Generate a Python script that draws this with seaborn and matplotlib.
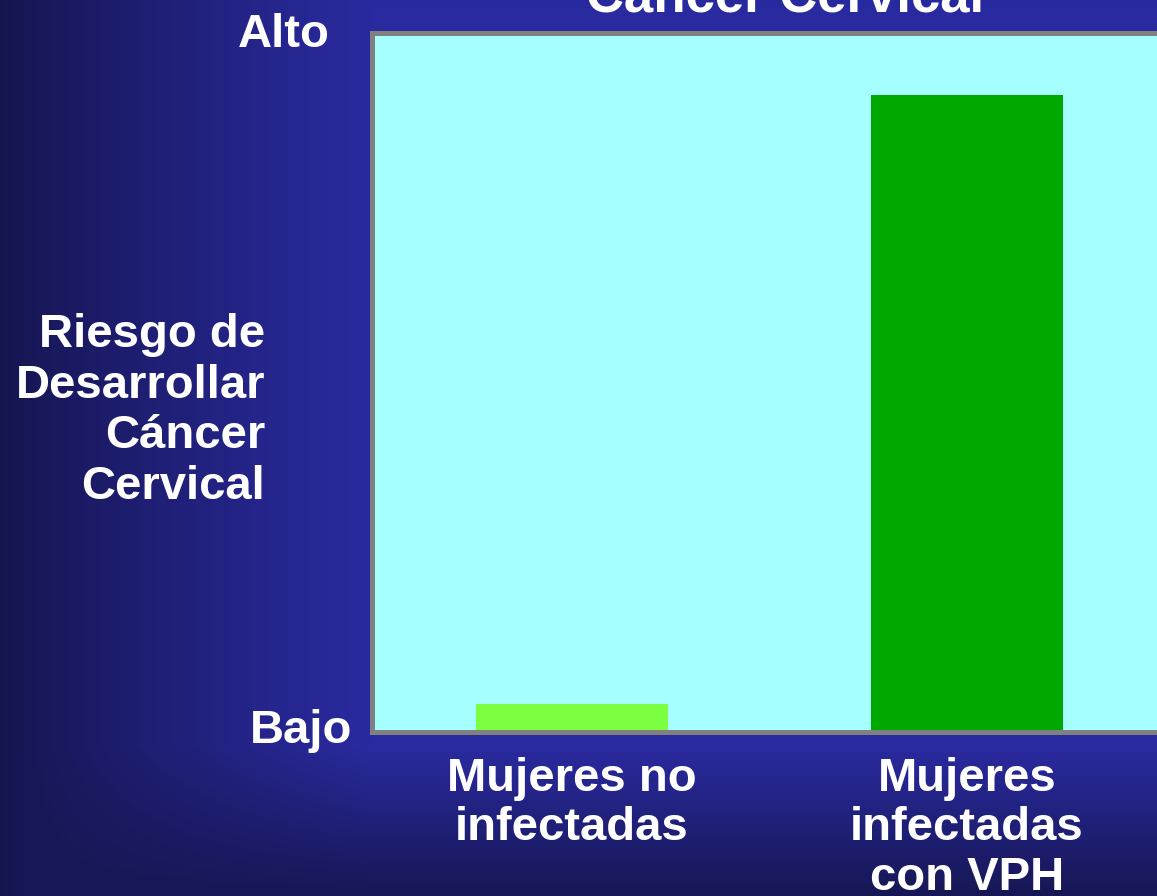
import numpy as np
import pandas as pd
import matplotlib
matplotlib.use('Agg')
import matplotlib.pyplot as plt
import seaborn as sns

# Datos del grafico
categorias = ['Mujeres no\ninfectadas', 'Mujeres\ninfectadas\ncon VPH']
riesgo = [0.04, 0.912]
colores = ['#7CFF40', '#00A800']
titulo = 'Cáncer Cervical'
etiqueta_y = 'Riesgo de\nDesarrollar\nCáncer\nCervical'
nivel_alto = 'Alto'
nivel_bajo = 'Bajo'

sns.set_theme(style='white')
plt.rcParams['font.family'] = ['Liberation Sans', 'DejaVu Sans']
plt.rcParams['font.weight'] = 'bold'

W, H = 1157, 896
fig = plt.figure(figsize=(W / 100, H / 100), dpi=100)

# fondo degradado azul
bg = fig.add_axes([0, 0, 1, 1], zorder=-10)
xx = np.arange(W)[None, :]
yy = np.arange(H)[:, None]
izq = np.array([0x15, 0x15, 0x4E]) / 255
der = np.array([0x2A, 0x2A, 0xA0]) / 255
oscuro = np.array([0x17, 0x17, 0x55]) / 255
t = np.clip(xx / 370.0, 0, 1) ** 0.85
img = izq[None, None, :] + (der - izq)[None, None, :] * t[..., None]
img = np.broadcast_to(img, (H, W, 3)).copy()
s = np.clip((yy - 745) / (H - 745), 0, 1)[..., None]
mezcla = img * (1 - s) + oscuro * s
img = np.minimum(img, mezcla)
bg.imshow(img, aspect='auto', extent=[0, 1, 0, 1])
bg.set_axis_off()

# ejes del grafico
left = 371.5 / W
bottom = 1 - 731.5 / H
height = 698 / H
width = 790.6 / W
ax = fig.add_axes([left, bottom, width, height])

df = pd.DataFrame({'grupo': categorias, 'riesgo': riesgo})
sns.barplot(data=df, x='grupo', y='riesgo', hue='grupo', palette=colores,
            width=0.486, legend=False, ax=ax, saturation=1,
            edgecolor='none', linewidth=0)

ax.set_facecolor('#A6FFFF')
ax.set_xlim(-0.5065, 1.4935)
ax.set_ylim(0, 1)
for sp in ax.spines.values():
    sp.set_color('#808080')
    sp.set_linewidth(3.6)
    sp.set_zorder(5)

ax.set_xticks([])
ax.set_yticks([])
ax.set_xlabel('')
ax.set_ylabel('')

font = dict(color='white', fontsize=34, fontweight='bold')

# etiquetas de categorias
for i, cat in enumerate(categorias):
    ax.text(i, -0.036, cat, ha='center', va='top', linespacing=1.17,
            transform=ax.get_xaxis_transform(), **font)

# niveles Alto / Bajo
fig.text(330 / W, 1 - 47 / H, nivel_alto, ha='right', va='baseline', **font)
fig.text(352 / W, 1 - 743 / H, nivel_bajo, ha='right', va='baseline', **font)

# etiqueta del eje y
fig.text(265 / W, 1 - 411 / H, etiqueta_y, ha='right', va='center',
         multialignment='right', linespacing=1.19, **font)

# titulo (cortado arriba)
fig.text(785 / W, 1 - 12 / H, titulo, ha='center', va='baseline',
         color='white', fontsize=38, fontweight='bold')

fig.savefig('out.png', dpi=100)
